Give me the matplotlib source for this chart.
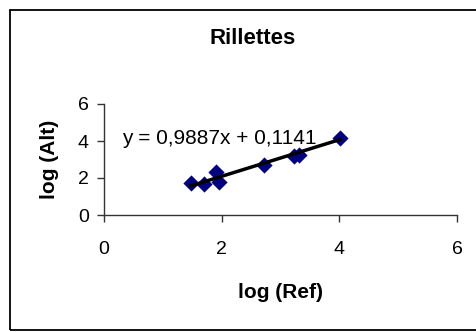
import matplotlib
matplotlib.use("Agg")
import matplotlib.pyplot as plt
import numpy as np
from matplotlib.patches import Rectangle

plt.rcParams['font.family'] = ['Liberation Sans', 'DejaVu Sans']

title = "Rillettes"
x_label = "log (Ref)"
y_label = "log (Alt)"
log_ref = [1.48, 1.70, 1.90, 1.95, 2.72, 3.23, 3.31, 4.01]
log_alt = [1.75, 1.66, 2.31, 1.80, 2.72, 3.19, 3.24, 4.16]
slope = 0.9887
intercept = 0.1141
ticks = [0, 2, 4, 6]
equation = "y = 0,9887x + 0,1141"

fig = plt.figure(figsize=(4.77, 3.32), dpi=100)
ax = fig.add_axes([104/477, 1-215/332, 353/477, 111/332])

ax.scatter(log_ref, log_alt, marker='D', s=68, color='#000080', zorder=3, linewidths=0)
xf = np.array([min(log_ref), max(log_ref)])
ax.plot(xf, slope*xf + intercept, color='black', lw=2.5, zorder=4)

ax.set_xlim(0, 6)
ax.set_ylim(0, 6)
ax.set_xticks(ticks)
ax.set_yticks(ticks)
for s in ['top', 'right']:
    ax.spines[s].set_visible(False)
for s in ['left', 'bottom']:
    ax.spines[s].set_color('#333333')
    ax.spines[s].set_linewidth(1.0)
ax.tick_params(axis='x', direction='out', length=5, width=1, pad=14, labelsize=14, colors='#333333')
ax.tick_params(axis='y', direction='out', length=5, width=1, pad=6, labelsize=14, colors='#333333')
for lab in ax.get_xticklabels() + ax.get_yticklabels():
    lab.set_color('black')

ax.set_xlabel(x_label, fontsize=15, fontweight='bold', va='center')
ax.xaxis.set_label_coords(0.5, (215-292)/111)
ax.set_ylabel(y_label, fontsize=15, fontweight='bold', va='center')
ax.yaxis.set_label_coords((50-104)/353, 0.5)
ax.text(0.31, 4.16, equation, fontsize=15, va='center', ha='left')

fig.text(253/477, 1-38/332, title, fontsize=16, fontweight='bold', ha='center', va='center')

fig.patches.append(Rectangle((10/477, 2/332), 1.0, 320/332, transform=fig.transFigure,
                             fill=False, edgecolor='black', lw=1.3))

fig.savefig("out.png", dpi=100)
